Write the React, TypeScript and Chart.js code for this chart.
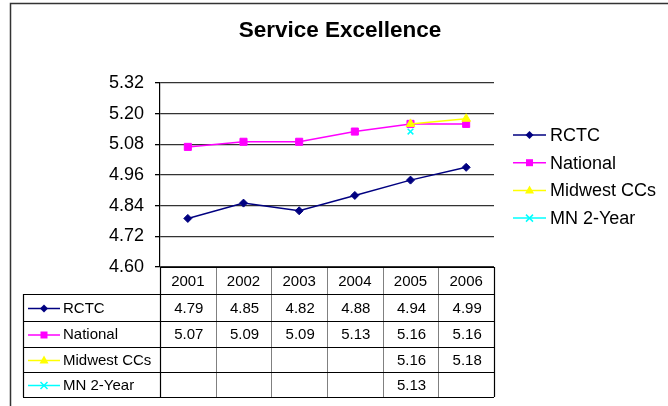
import React, { useEffect, useRef } from 'react';
import { Chart, registerables } from 'chart.js';

Chart.register(...registerables);

const TITLE = 'Service Excellence';
const YEARS = ['2001', '2002', '2003', '2004', '2005', '2006'];
const SERIES_NAMES = ['RCTC', 'National', 'Midwest CCs', 'MN 2-Year'];
const RCTC = [4.79, 4.85, 4.82, 4.88, 4.94, 4.99];
const NATIONAL = [5.07, 5.09, 5.09, 5.13, 5.16, 5.16];
const MIDWEST = [null, null, null, null, 5.16, 5.18];
const MN_2YEAR = [null, null, null, null, 5.13, null];
const Y_MIN = 4.6;
const Y_MAX = 5.32;
const Y_STEP = 0.12;

const COLORS = ['#000080', '#FF00FF', '#FFFF00', '#00FFFF'];
const MARKERS = ['rectRot', 'rect', 'triangle', 'crossRot'];
const RADII = [4, 5, 5, 4];

const FONT = '"Liberation Sans", Arial, sans-serif';

function drawMarker(ctx: CanvasRenderingContext2D, style: string, x: number, y: number, color: string) {
  ctx.save();
  ctx.fillStyle = color;
  ctx.strokeStyle = color;
  ctx.lineWidth = 1.5;
  ctx.beginPath();
  if (style === 'rectRot') {
    const r = 4;
    ctx.moveTo(x - r, y);
    ctx.lineTo(x, y - r);
    ctx.lineTo(x + r, y);
    ctx.lineTo(x, y + r);
    ctx.closePath();
    ctx.fill();
  } else if (style === 'rect') {
    const s = 3.5;
    ctx.rect(x - s, y - s, 2 * s, 2 * s);
    ctx.fill();
  } else if (style === 'triangle') {
    const r = 5;
    ctx.moveTo(x, y - r);
    ctx.lineTo(x + r * 0.9, y + r * 0.6);
    ctx.lineTo(x - r * 0.9, y + r * 0.6);
    ctx.closePath();
    ctx.fill();
  } else {
    const r = 3.5;
    ctx.moveTo(x - r, y - r);
    ctx.lineTo(x + r, y + r);
    ctx.moveTo(x + r, y - r);
    ctx.lineTo(x - r, y + r);
    ctx.stroke();
  }
  ctx.restore();
}

function drawLegendSample(ctx: CanvasRenderingContext2D, i: number, x0: number, x1: number, y: number) {
  ctx.save();
  ctx.strokeStyle = COLORS[i];
  ctx.lineWidth = 1.5;
  ctx.beginPath();
  ctx.moveTo(x0, y);
  ctx.lineTo(x1, y);
  ctx.stroke();
  ctx.restore();
  drawMarker(ctx, MARKERS[i], (x0 + x1) / 2, y, COLORS[i]);
}

const decorPlugin = {
  id: 'decor',
  beforeDraw(chart: any) {
    const ctx: CanvasRenderingContext2D = chart.ctx;
    ctx.save();
    ctx.fillStyle = '#ffffff';
    ctx.fillRect(0, 0, chart.width, chart.height);
    ctx.strokeStyle = '#333333';
    ctx.lineWidth = 1.5;
    ctx.strokeRect(10.5, 3.5, chart.width + 20, chart.height + 20);
    // title
    ctx.fillStyle = '#000';
    ctx.font = `bold 22.5px ${FONT}`;
    ctx.textAlign = 'center';
    ctx.textBaseline = 'middle';
    ctx.fillText(TITLE, 340, 31);
    ctx.restore();
  },
  afterDraw(chart: any) {
    const ctx: CanvasRenderingContext2D = chart.ctx;
    const area = chart.chartArea;
    const xs = chart.scales.x;
    const n = YEARS.length;
    const colW = (area.right - area.left) / n;
    const tableLeft = 23;
    const rowH = [27, 27, 26, 25, 25];
    const rowTops: number[] = [area.bottom];
    for (let i = 0; i < rowH.length; i++) rowTops.push(rowTops[i] + rowH[i]);
    const tableBottom = rowTops[rowTops.length - 1];

    ctx.save();
    // vertical inner lines (gray)
    ctx.lineWidth = 1;
    ctx.strokeStyle = '#808080';
    for (let i = 1; i < n; i++) {
      const x = Math.round(area.left + i * colW) + 0.5;
      ctx.beginPath();
      ctx.moveTo(x, area.bottom);
      ctx.lineTo(x, tableBottom);
      ctx.stroke();
    }
    // horizontal lines
    ctx.strokeStyle = '#000';
    ctx.lineWidth = 1.2;
    for (let r = 0; r < rowTops.length; r++) {
      const y = Math.round(rowTops[r]) + 0.5;
      ctx.beginPath();
      ctx.moveTo(r === 0 ? area.left : tableLeft, y);
      ctx.lineTo(area.right, y);
      ctx.stroke();
    }
    // edges
    const edges = [
      [tableLeft, rowTops[1], tableLeft, tableBottom],
      [area.left, area.bottom, area.left, tableBottom],
      [area.right, area.bottom, area.right, tableBottom],
    ];
    for (const [x0, y0, x1, y1] of edges) {
      ctx.beginPath();
      ctx.moveTo(Math.round(x0) + 0.5, y0);
      ctx.lineTo(Math.round(x1) + 0.5, y1);
      ctx.stroke();
    }

    ctx.fillStyle = '#000';
    ctx.textBaseline = 'middle';
    // header years
    ctx.font = `15px ${FONT}`;
    ctx.textAlign = 'center';
    YEARS.forEach((yr, i) => {
      ctx.fillText(yr, xs.getPixelForValue(i), (rowTops[0] + rowTops[1]) / 2 + 1);
    });
    // series rows
    chart.data.datasets.forEach((ds: any, s: number) => {
      const yMid = (rowTops[s + 1] + rowTops[s + 2]) / 2 + 1;
      drawLegendSample(ctx, s, 28, 60, yMid);
      ctx.fillStyle = '#000';
      ctx.textAlign = 'left';
      ctx.font = `15px ${FONT}`;
      ctx.fillText(ds.label, 63, yMid);
      ctx.textAlign = 'center';
      ds.data.forEach((v: number | null, i: number) => {
        if (v === null || v === undefined) return;
        ctx.fillText(v.toFixed(2), xs.getPixelForValue(i) + 1, yMid);
      });
    });

    // right legend
    const legTop = 135;
    const legStep = 27.7;
    chart.data.datasets.forEach((ds: any, s: number) => {
      const y = legTop + s * legStep;
      drawLegendSample(ctx, s, 513, 546, y);
      ctx.fillStyle = '#000';
      ctx.textAlign = 'left';
      ctx.font = `18px ${FONT}`;
      ctx.fillText(ds.label, 550, y + 1);
    });
    ctx.restore();
  },
};

export default function App() {
  const ref = useRef<HTMLCanvasElement | null>(null);

  useEffect(() => {
    if (!ref.current) return;
    const seriesData = [RCTC, NATIONAL, MIDWEST, MN_2YEAR];
    const chart = new Chart(ref.current, {
      type: 'line',
      data: {
        labels: YEARS,
        datasets: seriesData.map((d, i) => ({
          label: SERIES_NAMES[i],
          data: d,
          borderColor: COLORS[i],
          backgroundColor: COLORS[i],
          pointBackgroundColor: COLORS[i],
          pointBorderColor: COLORS[i],
          pointStyle: MARKERS[i] as any,
          pointRadius: RADII[i],
          pointBorderWidth: i === 3 ? 1.5 : 1,
          borderWidth: 1.5,
          fill: false,
          tension: 0,
          spanGaps: false,
          order: 4 - i,
        })),
      },
      options: {
        animation: false,
        responsive: false,
        maintainAspectRatio: false,
        layout: { padding: { top: 83, bottom: 406 - 267, left: 10, right: 668 - 494 } },
        plugins: {
          legend: { display: false },
          title: { display: false },
          tooltip: { enabled: false },
        },
        scales: {
          x: {
            type: 'category',
            offset: true,
            display: false,
          },
          y: {
            min: Y_MIN,
            max: Y_MAX,
            afterFit: (scale: any) => {
              scale.width = 150;
            },
            ticks: {
              stepSize: Y_STEP,
              color: '#000',
              padding: 11,
              font: { family: FONT, size: 18 },
              callback: (v: any) => Number(v).toFixed(2),
            },
            grid: {
              color: '#333',
              lineWidth: 1.3,
              tickLength: 5,
              tickColor: '#000',
            },
            border: { color: '#000', width: 1.2 },
          },
        },
      },
      plugins: [decorPlugin],
    });
    return () => chart.destroy();
  }, []);

  return (
    <div style={{ position: 'absolute', left: 0, top: 0, width: 668, height: 406 }}>
      <canvas ref={ref} width={668} height={406} style={{ display: 'block' }} />
    </div>
  );
}
